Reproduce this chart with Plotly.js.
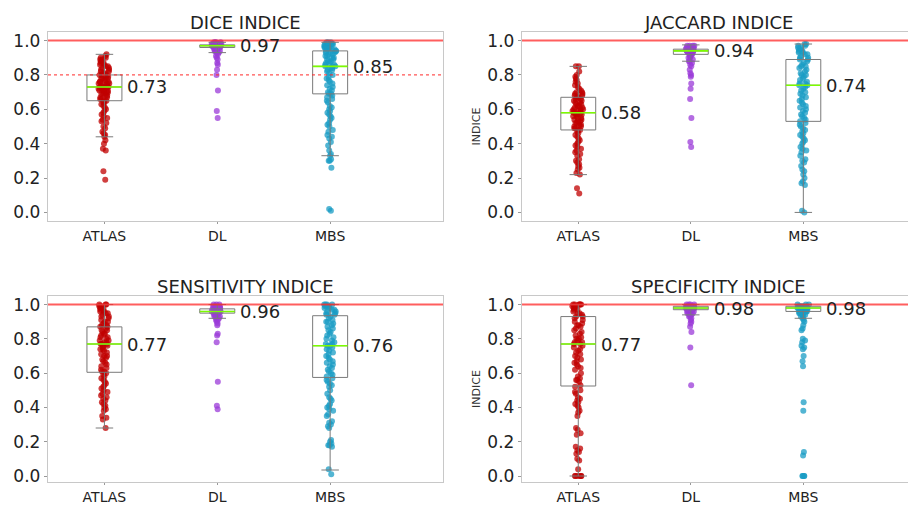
<!DOCTYPE html>
<html>
<head>
<meta charset="utf-8">
<script src="https://cdn.plot.ly/plotly-3.0.1.min.js"></script>
<style>html,body{margin:0;padding:0;background:#fff;}#chart{width:908px;height:505px;}</style>
</head>
<body>
<div id="chart"></div>
<script>
// ---------- data ----------
const categories = ['ATLAS', 'DL', 'MBS'];
const panelTitles = ['DICE INDICE', 'JACCARD INDICE', 'SENSITIVITY INDICE', 'SPECIFICITY INDICE'];
const yTickVals = [0.0, 0.2, 0.4, 0.6, 0.8, 1.0];
const perfectLine = 1.0;
const diceThreshold = 0.8;

const diceAtlas = [0.92,0.91,0.90,0.90,0.89,0.89,0.88,0.88,0.87,0.87,0.86,0.86,0.85,0.85,0.84,0.84,0.83,0.83,0.82,0.82,0.81,0.81,0.80,0.80,0.80,0.79,0.79,0.78,0.78,0.78,0.77,0.77,0.76,0.76,0.76,0.75,0.75,0.75,0.74,0.74,0.74,0.73,0.73,0.73,0.73,0.72,0.72,0.72,0.71,0.71,0.71,0.70,0.70,0.70,0.69,0.69,0.68,0.68,0.67,0.67,0.66,0.66,0.65,0.65,0.64,0.64,0.63,0.62,0.61,0.60,0.59,0.58,0.57,0.56,0.55,0.54,0.53,0.52,0.50,0.49,0.47,0.46,0.45,0.44,0.42,0.40,0.37,0.36,0.24,0.19];
const diceDL = [0.99,0.99,0.99,0.99,0.98,0.98,0.98,0.98,0.98,0.98,0.97,0.97,0.97,0.97,0.97,0.97,0.97,0.97,0.97,0.97,0.96,0.96,0.96,0.96,0.96,0.96,0.96,0.96,0.95,0.95,0.95,0.95,0.94,0.94,0.94,0.93,0.93,0.92,0.91,0.90,0.89,0.87,0.86,0.83,0.80,0.71,0.59,0.55];
const diceMBS = [0.99,0.99,0.99,0.98,0.98,0.98,0.98,0.97,0.97,0.97,0.97,0.96,0.96,0.96,0.96,0.95,0.95,0.95,0.94,0.94,0.94,0.93,0.93,0.93,0.92,0.92,0.91,0.91,0.90,0.90,0.89,0.89,0.88,0.88,0.87,0.87,0.86,0.86,0.85,0.85,0.85,0.84,0.84,0.83,0.83,0.82,0.81,0.80,0.79,0.78,0.77,0.76,0.75,0.74,0.73,0.72,0.71,0.70,0.69,0.69,0.68,0.67,0.66,0.65,0.64,0.62,0.61,0.60,0.59,0.58,0.57,0.56,0.55,0.54,0.52,0.51,0.50,0.48,0.47,0.45,0.44,0.43,0.41,0.39,0.36,0.34,0.33,0.31,0.30,0.30,0.26,0.02,0.01];

const jacAtlas = [0.85,0.85,0.82,0.80,0.79,0.78,0.77,0.76,0.75,0.74,0.73,0.72,0.71,0.70,0.70,0.69,0.69,0.68,0.68,0.67,0.67,0.66,0.66,0.65,0.65,0.64,0.64,0.63,0.63,0.62,0.62,0.61,0.61,0.60,0.60,0.60,0.59,0.59,0.59,0.58,0.58,0.58,0.57,0.57,0.57,0.56,0.56,0.55,0.55,0.54,0.54,0.53,0.53,0.52,0.52,0.51,0.51,0.50,0.50,0.49,0.49,0.48,0.48,0.47,0.46,0.45,0.44,0.43,0.42,0.41,0.40,0.39,0.38,0.37,0.36,0.35,0.34,0.33,0.31,0.30,0.29,0.28,0.27,0.26,0.25,0.23,0.22,0.14,0.11];
const jacDL = [0.97,0.97,0.97,0.97,0.96,0.96,0.96,0.96,0.96,0.95,0.95,0.95,0.95,0.95,0.95,0.94,0.94,0.94,0.94,0.94,0.94,0.93,0.93,0.93,0.93,0.93,0.92,0.92,0.92,0.91,0.91,0.90,0.90,0.89,0.88,0.88,0.87,0.86,0.85,0.83,0.81,0.80,0.79,0.75,0.72,0.66,0.55,0.41,0.38];
const jacMBS = [0.98,0.98,0.97,0.97,0.96,0.96,0.95,0.95,0.94,0.94,0.93,0.93,0.92,0.92,0.91,0.90,0.90,0.89,0.89,0.88,0.87,0.86,0.85,0.85,0.84,0.83,0.82,0.81,0.80,0.80,0.79,0.78,0.77,0.76,0.75,0.75,0.74,0.74,0.73,0.72,0.71,0.70,0.69,0.68,0.67,0.66,0.65,0.64,0.63,0.62,0.61,0.60,0.59,0.58,0.57,0.56,0.55,0.54,0.53,0.52,0.51,0.50,0.49,0.48,0.47,0.46,0.45,0.44,0.43,0.42,0.41,0.40,0.38,0.37,0.36,0.35,0.33,0.31,0.30,0.29,0.27,0.25,0.24,0.22,0.20,0.18,0.17,0.16,0.01,0.00];

const sensAtlas = [1.00,1.00,1.00,0.99,0.99,0.98,0.98,0.97,0.97,0.96,0.96,0.95,0.95,0.94,0.93,0.93,0.92,0.91,0.90,0.90,0.89,0.88,0.88,0.87,0.87,0.86,0.85,0.85,0.84,0.83,0.83,0.82,0.81,0.81,0.80,0.79,0.79,0.78,0.78,0.77,0.77,0.77,0.76,0.76,0.75,0.74,0.74,0.73,0.72,0.71,0.70,0.70,0.69,0.68,0.67,0.66,0.65,0.64,0.63,0.62,0.61,0.61,0.60,0.59,0.58,0.57,0.56,0.55,0.54,0.53,0.52,0.51,0.50,0.49,0.48,0.47,0.46,0.45,0.44,0.43,0.42,0.41,0.40,0.39,0.38,0.35,0.34,0.33,0.28];
const sensDL = [1.00,1.00,1.00,0.99,0.99,0.99,0.99,0.98,0.98,0.98,0.98,0.98,0.97,0.97,0.97,0.97,0.97,0.97,0.96,0.96,0.96,0.96,0.96,0.96,0.96,0.95,0.95,0.95,0.95,0.95,0.94,0.94,0.94,0.93,0.93,0.93,0.92,0.92,0.91,0.91,0.90,0.89,0.88,0.83,0.82,0.78,0.55,0.41,0.39];
const sensMBS = [1.00,1.00,1.00,1.00,0.99,0.99,0.99,0.98,0.98,0.97,0.97,0.96,0.96,0.95,0.95,0.94,0.94,0.93,0.92,0.91,0.90,0.90,0.89,0.88,0.87,0.86,0.85,0.84,0.83,0.82,0.81,0.80,0.79,0.78,0.77,0.77,0.76,0.76,0.75,0.74,0.73,0.72,0.71,0.70,0.69,0.68,0.67,0.66,0.65,0.64,0.63,0.62,0.61,0.60,0.59,0.58,0.57,0.56,0.55,0.54,0.53,0.52,0.50,0.48,0.46,0.45,0.44,0.42,0.41,0.40,0.39,0.38,0.36,0.35,0.32,0.31,0.30,0.29,0.28,0.21,0.20,0.19,0.18,0.18,0.17,0.04,0.01];

const specAtlas = [1.00,1.00,1.00,1.00,1.00,1.00,0.99,0.99,0.98,0.98,0.97,0.97,0.96,0.95,0.95,0.94,0.93,0.93,0.92,0.91,0.90,0.89,0.88,0.88,0.87,0.86,0.85,0.84,0.83,0.82,0.81,0.80,0.80,0.79,0.78,0.78,0.77,0.77,0.76,0.75,0.74,0.73,0.72,0.71,0.70,0.69,0.68,0.67,0.66,0.65,0.64,0.63,0.62,0.60,0.58,0.57,0.56,0.56,0.55,0.53,0.52,0.50,0.49,0.48,0.46,0.45,0.44,0.43,0.42,0.41,0.40,0.38,0.37,0.35,0.28,0.27,0.25,0.24,0.17,0.16,0.15,0.14,0.13,0.10,0.09,0.04,0.00,0.00,0.00,0.00,0.00,0.00];
const specDL = [1.00,1.00,1.00,1.00,0.99,0.99,0.99,0.99,0.99,0.99,0.98,0.98,0.98,0.98,0.98,0.98,0.98,0.98,0.98,0.97,0.97,0.97,0.97,0.97,0.97,0.96,0.96,0.96,0.96,0.95,0.95,0.95,0.94,0.94,0.93,0.93,0.92,0.91,0.90,0.89,0.87,0.84,0.75,0.53];
const specMBS = [1.00,1.00,1.00,0.99,0.99,0.99,0.99,0.99,0.98,0.98,0.98,0.98,0.98,0.98,0.98,0.97,0.97,0.97,0.97,0.97,0.96,0.96,0.96,0.96,0.95,0.95,0.95,0.94,0.94,0.93,0.93,0.92,0.91,0.90,0.88,0.86,0.85,0.80,0.79,0.78,0.76,0.75,0.74,0.70,0.67,0.64,0.43,0.38,0.14,0.12,0.00,0.00,0.00,0.00];

// box statistics per panel, ordered ATLAS, DL, MBS
const diceQ1 = [0.65, 0.96, 0.69], diceMed = [0.73, 0.97, 0.85], diceQ3 = [0.80, 0.975, 0.94], diceLo = [0.44, 0.93, 0.33], diceHi = [0.92, 0.99, 0.99];
const jacQ1 = [0.48, 0.92, 0.53], jacMed = [0.58, 0.94, 0.74], jacQ3 = [0.67, 0.95, 0.89], jacLo = [0.22, 0.88, 0.00], jacHi = [0.85, 0.975, 0.98];
const sensQ1 = [0.605, 0.95, 0.575], sensMed = [0.77, 0.96, 0.76], sensQ3 = [0.87, 0.975, 0.935], sensLo = [0.28, 0.92, 0.035], sensHi = [1.0, 1.0, 1.0];
const specQ1 = [0.525, 0.97, 0.96], specMed = [0.77, 0.98, 0.98], specQ3 = [0.93, 0.99, 0.99], specLo = [0.0, 0.94, 0.92], specHi = [1.0, 1.0, 1.0];

// ---------- styling ----------
const pointColors = ['#c00000', '#9b3bd8', '#1a9cc4'];
const FONT = 'DejaVu Sans, Liberation Sans, sans-serif';
const BOXW = 0.31;

const panels = [
  {pts: [diceAtlas, diceDL, diceMBS], q1: diceQ1, med: diceMed, q3: diceQ3, lo: diceLo, hi: diceHi},
  {pts: [jacAtlas, jacDL, jacMBS], q1: jacQ1, med: jacMed, q3: jacQ3, lo: jacLo, hi: jacHi},
  {pts: [sensAtlas, sensDL, sensMBS], q1: sensQ1, med: sensMed, q3: sensQ3, lo: sensLo, hi: sensHi},
  {pts: [specAtlas, specDL, specMBS], q1: specQ1, med: specMed, q3: specQ3, lo: specLo, hi: specHi}
];

const W = 908, H = 505;
const px = v => v / W, py = v => 1 - v / H;
const domains = [
  {x: [px(48), px(443)], y: [py(221), py(32)], xr: [-0.5, 3.0], yr: [-0.05, 1.05], left: true},
  {x: [px(522), 1.0], y: [py(221), py(32)], xr: [-0.5, 2.93], yr: [-0.05, 1.05], left: false},
  {x: [px(48), px(443)], y: [py(482), py(296)], xr: [-0.5, 3.0], yr: [-0.035, 1.05], left: true},
  {x: [px(522), 1.0], y: [py(482), py(296)], xr: [-0.5, 2.93], yr: [-0.035, 1.05], left: false}
];

const traces = [];
const layout = {
  width: W, height: H,
  margin: {l: 0, r: 0, t: 0, b: 0},
  paper_bgcolor: '#fff', plot_bgcolor: '#fff',
  showlegend: false,
  boxmode: 'overlay',
  font: {family: FONT, color: '#222'},
  shapes: [], annotations: []
};

panels.forEach((p, i) => {
  const n = i + 1;
  const xa = n === 1 ? 'x' : 'x' + n, ya = n === 1 ? 'y' : 'y' + n;
  const xk = n === 1 ? 'xaxis' : 'xaxis' + n, yk = n === 1 ? 'yaxis' : 'yaxis' + n;
  const d = domains[i];

  categories.forEach((c, j) => {
    // jittered points
    traces.push({
      type: 'box', xaxis: xa, yaxis: ya,
      x: p.pts[j].map(() => c), y: p.pts[j],
      boxpoints: 'all', jitter: 0.34, pointpos: 0, width: BOXW,
      line: {color: 'rgba(0,0,0,0)', width: 0}, fillcolor: 'rgba(0,0,0,0)',
      marker: {color: pointColors[j], size: 6, opacity: 0.75},
      hoverinfo: 'y'
    });
    // box with whiskers
    traces.push({
      type: 'box', xaxis: xa, yaxis: ya,
      x: [c], q1: [p.q1[j]], median: [p.med[j]], q3: [p.q3[j]],
      lowerfence: [p.lo[j]], upperfence: [p.hi[j]],
      boxpoints: false, width: BOXW, whiskerwidth: 0.5,
      line: {color: '#7a7a7a', width: 1}, fillcolor: 'rgba(0,0,0,0)',
      hoverinfo: 'skip'
    });
    // green median line
    traces.push({
      type: 'box', xaxis: xa, yaxis: ya,
      x: [c], q1: [p.med[j]], median: [p.med[j]], q3: [p.med[j]],
      lowerfence: [p.med[j]], upperfence: [p.med[j]],
      boxpoints: false, width: BOXW, whiskerwidth: 0,
      line: {color: '#7cfc00', width: 1.6}, fillcolor: 'rgba(0,0,0,0)',
      hoverinfo: 'skip'
    });
    // median label
    layout.annotations.push({
      xref: xa, yref: ya, x: c, y: p.med[j],
      text: p.med[j].toFixed(2), showarrow: false,
      xanchor: 'left', yanchor: 'middle', xshift: 21, yshift: 0,
      font: {family: FONT, size: 18, color: '#222'}
    });
  });

  layout[xk] = {
    domain: d.x, anchor: ya, type: 'category', categoryorder: 'array', categoryarray: categories,
    range: d.xr, showgrid: false, zeroline: false,
    showline: true, linecolor: '#c8c8c8', linewidth: 1.2, mirror: true,
    ticks: 'outside', ticklen: 2, tickcolor: '#999', tickwidth: 1,
    tickfont: {family: FONT, size: 14, color: '#222'}, automargin: false, fixedrange: true
  };
  layout[yk] = {
    domain: d.y, anchor: xa, range: d.yr,
    tickvals: yTickVals, ticktext: yTickVals.map(v => v.toFixed(1)),
    showgrid: false, zeroline: false,
    showline: true, linecolor: '#c8c8c8', linewidth: 1.2, mirror: d.left,
    ticks: 'outside', ticklen: 3, tickcolor: '#999', tickwidth: 1,
    tickfont: {family: FONT, size: 17, color: '#222'}, automargin: false, fixedrange: true,
    title: d.left ? {text: ''} : {text: 'INDICE', font: {family: FONT, size: 11, color: '#333'}, standoff: 4}
  };

  // panel title
  layout.annotations.push({
    xref: xa, yref: ya + ' domain', x: 1.25, y: 1,
    text: panelTitles[i], showarrow: false,
    xanchor: 'center', yanchor: 'middle', yshift: 10,
    font: {family: FONT, size: 18, color: '#222'}
  });

  // red reference line at 1.0
  layout.shapes.push({
    type: 'line', xref: xa + ' domain', yref: ya, x0: 0, x1: 1, y0: perfectLine, y1: perfectLine,
    line: {color: 'rgba(255,40,40,0.75)', width: 2}, layer: 'above'
  });
  if (i === 0) {
    layout.shapes.push({
      type: 'line', xref: xa + ' domain', yref: ya, x0: 0, x1: 1, y0: diceThreshold, y1: diceThreshold,
      line: {color: 'rgba(255,40,40,0.8)', width: 1.3, dash: 'dot'}, layer: 'above'
    });
  }
});

Plotly.newPlot('chart', traces, layout, {displayModeBar: false, staticPlot: true});
</script>
</body>
</html>
